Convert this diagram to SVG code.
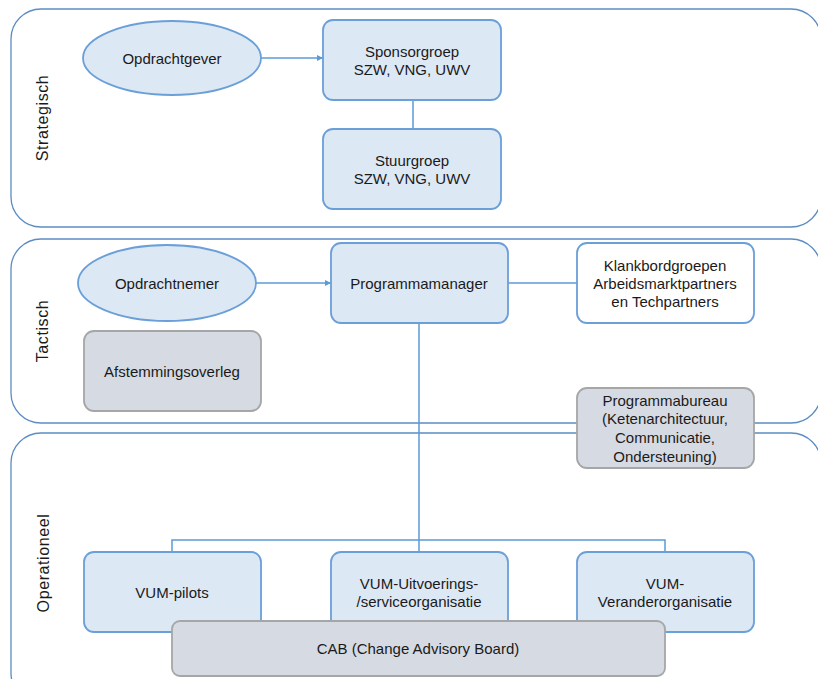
<svg xmlns="http://www.w3.org/2000/svg" width="818" height="679" viewBox="0 0 818 679">
<defs>
<marker id="arr" viewBox="0 0 10 10" refX="10" refY="5" markerWidth="6" markerHeight="6" orient="auto" markerUnits="userSpaceOnUse">
<path d="M0,0 L10,5 L0,10 z" fill="#5b9bd5"/>
</marker>
<style>
.lane{fill:#ffffff;stroke:#5b8cc4;stroke-width:1.3}
.blue{fill:#dde8f5;stroke:#6a9fd8;stroke-width:1.8}
.white{fill:#ffffff;stroke:#6a9fd8;stroke-width:1.8}
.gray{fill:#d6dae3;stroke:#a6a6a6;stroke-width:1.8}
.t{font-family:"Liberation Sans",Arial,sans-serif;font-size:15px;fill:#1a1a1a;text-anchor:middle;dominant-baseline:central}
.lt{font-family:"Liberation Sans",Arial,sans-serif;font-size:16px;letter-spacing:0.6px;fill:#1a1a1a;text-anchor:middle;dominant-baseline:central}
.c{fill:none;stroke:#5b9bd5;stroke-width:1.5}
</style>
</defs>
<g id="lanes">
<g id="lane-strategisch"><rect class="lane" x="11" y="9" width="810" height="218" rx="30"/><text class="lt" transform="translate(42,118) rotate(-90)">Strategisch</text></g>
<g id="lane-tactisch"><rect class="lane" x="11" y="239" width="810" height="184" rx="30"/><text class="lt" transform="translate(42,331) rotate(-90)">Tactisch</text></g>
<g id="lane-operationeel"><rect class="lane" x="11" y="433" width="810" height="270" rx="30"/><text class="lt" transform="translate(43,563) rotate(-90)">Operationeel</text></g>
</g>
<g id="connectors">
<line class="c" x1="261" y1="58" x2="323" y2="58" marker-end="url(#arr)"/>
<line class="c" x1="413" y1="100" x2="413" y2="129"/>
<line class="c" x1="256" y1="283" x2="331" y2="283" marker-end="url(#arr)"/>
<line class="c" x1="508" y1="283" x2="577" y2="283"/>
<line class="c" x1="419" y1="323" x2="419" y2="540"/>
<polyline class="c" points="172,552 172,540 665,540 665,552"/>
<line class="c" x1="419" y1="540" x2="419" y2="552"/>
</g>
<g id="opdrachtgever"><ellipse class="blue" cx="172" cy="58" rx="89" ry="37"/><text class="t" x="172" y="58">Opdrachtgever</text></g>
<g id="sponsorgroep"><rect class="blue" x="323" y="20" width="178" height="80" rx="10"/><text class="t" x="412" y="51">Sponsorgroep</text><text class="t" x="412" y="69">SZW, VNG, UWV</text></g>
<g id="stuurgroep"><rect class="blue" x="323" y="129" width="178" height="80" rx="10"/><text class="t" x="412" y="160">Stuurgroep</text><text class="t" x="412" y="178">SZW, VNG, UWV</text></g>
<g id="opdrachtnemer"><ellipse class="blue" cx="167" cy="283" rx="89" ry="38"/><text class="t" x="167" y="283">Opdrachtnemer</text></g>
<g id="programmamanager"><rect class="blue" x="331" y="243" width="177" height="80" rx="10"/><text class="t" x="419" y="283">Programmamanager</text></g>
<g id="klankbordgroepen"><rect class="white" x="577" y="243" width="177" height="80" rx="10"/><text class="t" x="665" y="265">Klankbordgroepen</text><text class="t" x="665" y="283">Arbeidsmarktpartners</text><text class="t" x="665" y="301">en Techpartners</text></g>
<g id="afstemmingsoverleg"><rect class="gray" x="84" y="331" width="177" height="80" rx="10"/><text class="t" x="172" y="371">Afstemmingsoverleg</text></g>
<g id="programmabureau"><rect class="gray" x="577" y="388" width="177" height="80" rx="10"/><text class="t" x="665" y="400">Programmabureau</text><text class="t" x="665" y="418">(Ketenarchitectuur,</text><text class="t" x="665" y="437">Communicatie,</text><text class="t" x="665" y="456">Ondersteuning)</text></g>
<g id="vum-pilots"><rect class="blue" x="84" y="552" width="177" height="80" rx="10"/><text class="t" x="172" y="592">VUM-pilots</text></g>
<g id="vum-uitvoering"><rect class="blue" x="331" y="552" width="177" height="80" rx="10"/><text class="t" x="419" y="583">VUM-Uitvoerings-</text><text class="t" x="419" y="601">/serviceorganisatie</text></g>
<g id="vum-verander"><rect class="blue" x="577" y="552" width="177" height="80" rx="10"/><text class="t" x="665" y="583">VUM-</text><text class="t" x="665" y="601">Veranderorganisatie</text></g>
<g id="cab"><rect class="gray" x="172" y="621" width="493" height="55" rx="8"/><text class="t" x="418" y="648">CAB (Change Advisory Board)</text></g>
</svg>
